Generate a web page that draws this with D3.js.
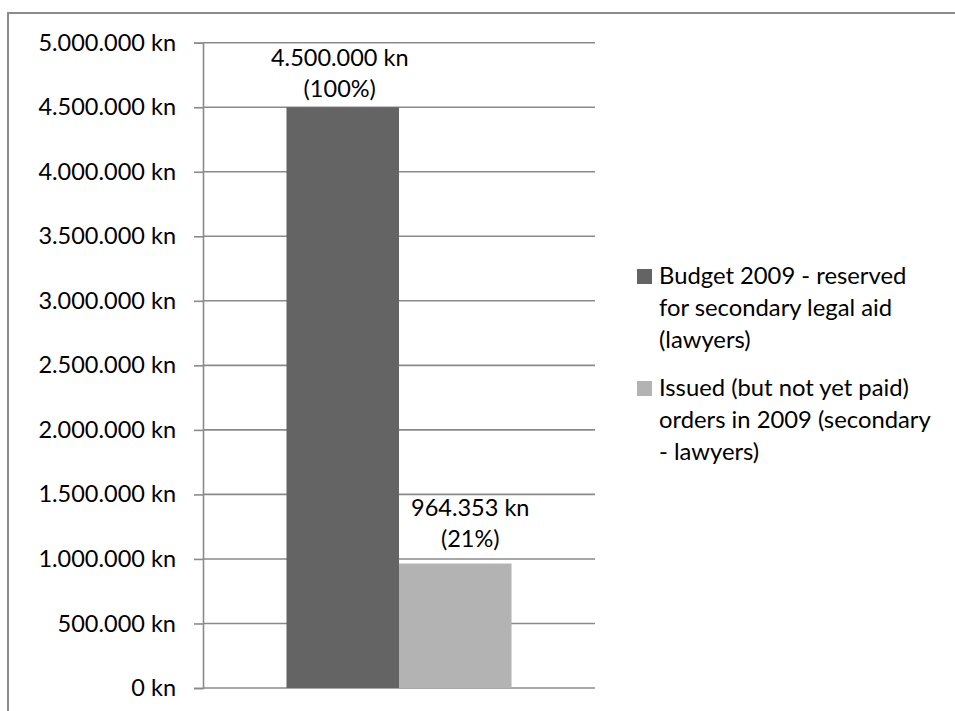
<!DOCTYPE html>
<html>
<head>
<meta charset="utf-8">
<script src="https://cdn.jsdelivr.net/npm/d3@7/dist/d3.min.js"></script>
<style>
  html, body { margin: 0; padding: 0; background: #fff; overflow: hidden; }
  svg { display: block; font-family: Lato, "Open Sans", sans-serif; }
</style>
</head>
<body>
<svg id="chart" width="955" height="711"></svg>
<script>
// Secondary legal aid, 2009: budget vs issued orders (HRK)
const categories = ["2009"];
const seriesNames = [
  "Budget 2009 - reserved for secondary legal aid (lawyers)",
  "Issued (but not yet paid) orders in 2009 (secondary - lawyers)"
];
const legendLines = [
  ["Budget 2009 - reserved", "for secondary legal aid", "(lawyers)"],
  ["Issued (but not yet paid)", "orders in 2009 (secondary", "- lawyers)"]
];
const seriesValues = [4500000, 964353];
const seriesShares = ["100%", "21%"];
const seriesColors = ["#646464", "#b3b3b3"];
const yTicks = [0, 500000, 1000000, 1500000, 2000000, 2500000, 3000000, 3500000, 4000000, 4500000, 5000000];

const hr = d3.formatLocale({ decimal: ",", thousands: ".", grouping: [3], currency: ["", " kn"] });
const fmtKn = v => hr.format(",d")(v) + " kn";

const svg = d3.select("#chart");
const fontSize = 23.5;
const legendFontSize = 23.8;
const gridColor = "#8a8a8a";

// chart frame (runs past the right and bottom edges)
svg.append("rect")
  .attr("x", 8).attr("y", 13).attr("width", 1200).attr("height", 1000)
  .attr("fill", "#fff").attr("stroke", "#8c8c8c").attr("stroke-width", 2);

const plot = { left: 203, right: 595, top: 42.7, bottom: 688 };

const y = d3.scaleLinear().domain([0, 5000000]).range([plot.bottom, plot.top]);
const x0 = d3.scaleBand().domain(categories).range([plot.left, plot.right])
  .paddingInner(0).paddingOuter(0.371);
const x1 = d3.scaleBand().domain(d3.range(seriesValues.length)).range([0, x0.bandwidth()]);

// horizontal gridlines
svg.append("g").selectAll("line").data(yTicks).join("line")
  .attr("x1", plot.left).attr("x2", plot.right)
  .attr("y1", d => y(d)).attr("y2", d => y(d))
  .attr("stroke", gridColor).attr("stroke-width", 1.6);

// y axis
const yAxis = d3.axisLeft(y).tickValues(yTicks).tickFormat(fmtKn).tickSize(9).tickPadding(18);
const gy = svg.append("g").attr("transform", `translate(${plot.left},0)`).call(yAxis);
gy.select(".domain").attr("stroke", gridColor).attr("stroke-width", 1.6);
gy.selectAll(".tick line").attr("stroke", gridColor).attr("stroke-width", 1.6);
gy.selectAll(".tick text").attr("fill", "#000").style("font-size", fontSize + "px")
  .style("font-family", "Lato, 'Open Sans', sans-serif");

// bars
const g = svg.append("g").attr("transform", `translate(${x0(categories[0])},0)`);
g.selectAll("rect").data(seriesValues).join("rect")
  .attr("x", (d, i) => x1(i)).attr("width", x1.bandwidth())
  .attr("y", d => y(d)).attr("height", d => y(0) - y(d))
  .attr("fill", (d, i) => seriesColors[i]);

// value labels above bars
const labelDx = [-3, 15];
const labelGap = [10, 17];
const labels = g.selectAll("text.val").data(seriesValues).join("text")
  .attr("class", "val")
  .attr("text-anchor", "middle")
  .attr("fill", "#000")
  .style("font-size", fontSize + "px");
labels.append("tspan")
  .attr("x", (d, i) => x1(i) + x1.bandwidth() / 2 + labelDx[i])
  .attr("y", (d, i) => y(d) - labelGap[i] - 31)
  .text(d => fmtKn(d));
labels.append("tspan")
  .attr("x", (d, i) => x1(i) + x1.bandwidth() / 2 + labelDx[i])
  .attr("y", (d, i) => y(d) - labelGap[i])
  .text((d, i) => `(${seriesShares[i]})`);

// legend
const legend = svg.append("g").attr("transform", "translate(637,269)");
const entry = legend.selectAll("g").data(seriesNames).join("g")
  .attr("transform", (d, i) => `translate(0,${i * 112})`);
entry.append("rect").attr("width", 15).attr("height", 15)
  .attr("fill", (d, i) => seriesColors[i]);
entry.append("text")
  .attr("fill", "#000").style("font-size", legendFontSize + "px")
  .selectAll("tspan").data((d, i) => legendLines[i]).join("tspan")
  .attr("x", 22).attr("y", (d, j) => 15 + j * 32)
  .text(d => d);
</script>
</body>
</html>
